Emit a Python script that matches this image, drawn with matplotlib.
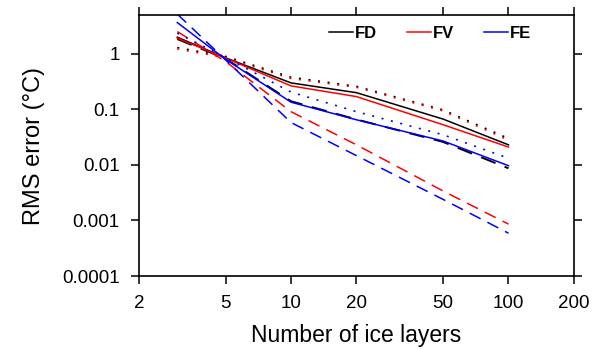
import numpy as np
import matplotlib
matplotlib.use('Agg')
import matplotlib.pyplot as plt

plt.rcParams['font.family'] = ['Liberation Sans', 'DejaVu Sans']

# ── Данные ─────────────────────────────────────────────────────────
layers = [3, 5, 10, 20, 50, 100]

fd_solid = [2.0, 0.85, 0.30, 0.20, 0.067, 0.023]
fd_dashed = [1.85, 0.82, 0.14, 0.066, 0.026, 0.0087]
fd_dotted = [1.3, 0.9, 0.38, 0.26, 0.098, 0.030]

fv_solid = [1.92, 0.84, 0.265, 0.17, 0.053, 0.021]
fv_dashed = [2.52, 0.73, 0.091, 0.023, 0.0034, 0.00086]
fv_dotted = [1.23, 0.85, 0.36, 0.25, 0.094, 0.028]

fe_solid = [3.66, 0.80, 0.135, 0.065, 0.027, 0.0097]
fe_dashed = [5.2, 0.78, 0.058, 0.0147, 0.0024, 0.00059]
fe_dotted = [2.36, 0.86, 0.205, 0.091, 0.035, 0.0132]

x_ticks = [2, 5, 10, 20, 50, 100, 200]
x_labels = ['2', '5', '10', '20', '50', '100', '200']
y_ticks = [1e-4, 1e-3, 1e-2, 1e-1, 1]
y_labels = ['0.0001', '0.001', '0.01', '0.1', '1']

DASHED = (0, (8, 5))
DOTTED = (0, (1.2, 4.6))

fig = plt.figure(figsize=(6.01, 3.5), dpi=100)
ax = fig.add_axes([0.2313, 0.2114, 0.7237, 0.7456])

series = [
    ('FD', 'black', fd_solid, fd_dashed, fd_dotted),
    ('FV', 'red', fv_solid, fv_dashed, fv_dotted),
    ('FE', 'blue', fe_solid, fe_dashed, fe_dotted),
]
handles = []
for name, color, solid, dashed, dotted in series:
    h, = ax.plot(layers, solid, color=color, lw=1.1, label=name)
    # у FD штрихи чуть толще, как на исходнике
    ax.plot(layers, dashed, color=color, lw=1.4 if name == 'FD' else 1.1,
            linestyle=DASHED)
    ax.plot(layers, dotted, color=color, lw=1.2, linestyle=DOTTED)
    handles.append(h)

ax.set_xscale('log')
ax.set_yscale('log')
ax.set_xlim(2, 200)
ax.set_ylim(1e-4, 5)
ax.set_xticks(x_ticks)
ax.set_xticklabels(x_labels)
ax.set_yticks(y_ticks)
ax.set_yticklabels(y_labels)
ax.minorticks_off()
ax.tick_params(which='both', direction='out', top=True, right=True,
               length=6, width=1.1, labelsize=13.5, pad=8)
for sp in ax.spines.values():
    sp.set_linewidth(1.2)

ax.set_xlabel('Number of ice layers', fontsize=16.5, labelpad=8)
ax.set_ylabel('RMS error (°C)', fontsize=17, labelpad=12)

leg = ax.legend(handles=handles, loc='center', bbox_to_anchor=(0.67, 0.93),
                ncol=3, frameon=False, handlelength=1.4, handletextpad=0.15,
                columnspacing=1.8, prop={'weight': 'bold', 'size': 12})

fig.savefig('out.png', dpi=100)
